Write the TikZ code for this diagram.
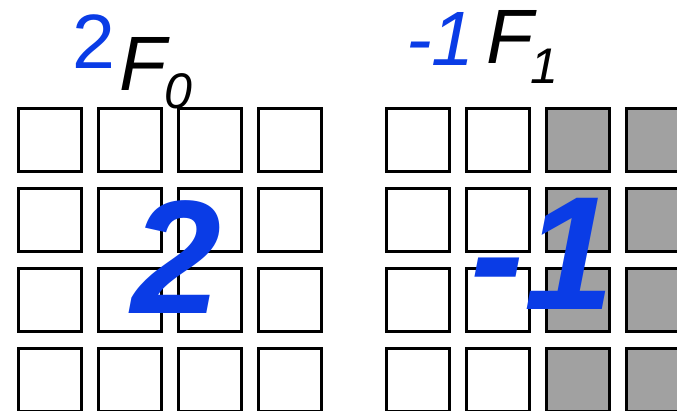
\documentclass[tikz,border=0pt]{standalone}
\usepackage{fontspec}
\setmainfont{Liberation Sans}
\usepackage{xcolor}
\usepackage{tikz}
\usetikzlibrary{positioning}
\definecolor{corAzul}{RGB}{10, 60, 230}
\definecolor{corCinza}{RGB}{161, 161, 161}

\begin{document}
\begin{tikzpicture}[
    x=0.025cm, y=-0.025cm,
    celula/.style={draw, line width=2pt, minimum size=1.575cm, inner sep=0pt, outer sep=0pt},
    coef/.style={text=corAzul, inner sep=0pt, anchor=base west,
                 font=\fontsize{54.8pt}{60pt}\selectfont},
    nome/.style={inner sep=0pt, anchor=base west, font=\fontsize{54.8pt}{60pt}\selectfont\itshape},
    indice/.style={inner sep=0pt, anchor=base west, font=\fontsize{35.6pt}{40pt}\selectfont\itshape},
    peso/.style={text=corAzul, inner sep=0pt, anchor=base west,
                 font=\fontsize{115pt}{120pt}\selectfont\bfseries\itshape}
]
\useasboundingbox (0,0) rectangle (677,410);

% grade de F_0
\foreach \i in {0,...,3}
  \foreach \j in {0,...,3}
    \node[celula] (a\i\j) at (50+80*\i, 140+80*\j) {};

% grade de F_1
\foreach \i in {0,1}
  \foreach \j in {0,...,3}
    \node[celula] (b\i\j) at (418+80*\i, 140+80*\j) {};
\foreach \i in {2,3}
  \foreach \j in {0,...,3}
    \node[celula, fill=corCinza] (b\i\j) at (418+80*\i, 140+80*\j) {};

\node[coef] (c0) at (72,68) {2};
\node[nome] (f0) at (119,90) {F};
\node[indice] (s0) at (164,108) {0};

\node[coef, font=\fontsize{54.8pt}{60pt}\selectfont\itshape] (c1) at (406,65) {-1};
\node[nome] (f1) at (486,63) {F};
\node[indice] (s1) at (530,83) {1};

\node[peso] (p0) at (131,313) {2};
\node[peso] (p1) at (470,309) {-1};
\end{tikzpicture}
\end{document}
